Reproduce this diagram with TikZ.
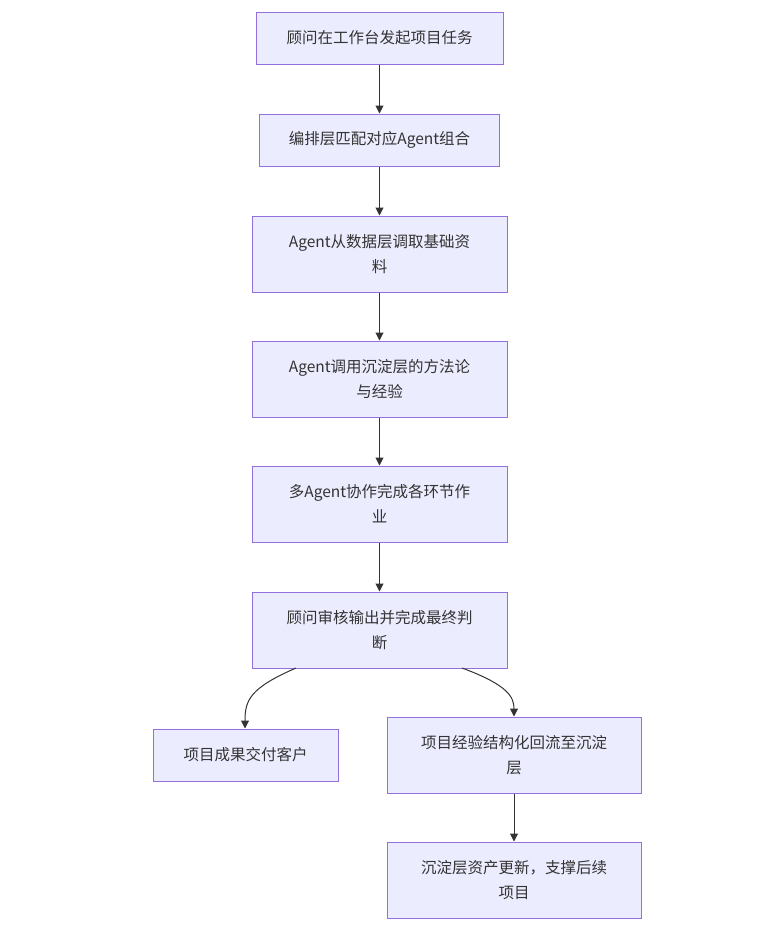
\documentclass[tikz,border=0pt]{standalone}
\usepackage{fontspec}
\setmainfont{Noto Sans CJK SC}
\usetikzlibrary{arrows.meta}
\definecolor{nodefill}{HTML}{ECECFF}
\definecolor{nodeline}{HTML}{9370DB}
\definecolor{txt}{HTML}{333333}
\tikzset{
  box/.style={draw=nodeline, fill=nodefill, line width=1pt, rectangle, align=center,
    text=txt, font=\fontsize{15.5}{25}\selectfont, inner sep=0pt},
  conn/.style={draw=txt, line width=1pt, -{Triangle[length=8pt,width=8pt]}}
}
\begin{document}
\begin{tikzpicture}[x=1pt,y=-1pt]
\useasboundingbox (0,0) rectangle (760,927);
\node[box, minimum width=247pt, minimum height=52pt] (a) at (379.5,38) {顾问在工作台发起项目任务};
\node[box, minimum width=240pt, minimum height=52pt] (b) at (379.5,140) {编排层匹配对应Agent组合};
\node[box, minimum width=255pt, minimum height=76pt] (c) at (379.5,254) {Agent从数据层调取基础资\\料};
\node[box, minimum width=255pt, minimum height=76pt] (d) at (379.5,379) {Agent调用沉淀层的方法论\\与经验};
\node[box, minimum width=255pt, minimum height=76pt] (e) at (379.5,504) {多Agent协作完成各环节作\\业};
\node[box, minimum width=255pt, minimum height=76pt] (f) at (379.5,630) {顾问审核输出并完成最终判\\断};
\node[box, minimum width=185pt, minimum height=52pt] (g) at (245.5,755) {项目成果交付客户};
\node[box, minimum width=254pt, minimum height=76pt] (h) at (514,755) {项目经验结构化回流至沉淀\\层};
\node[box, minimum width=254pt, minimum height=76pt] (i) at (514,880) {沉淀层资产更新，支撑后续\\项目};
\coordinate (fl) at (296,668);
\coordinate (fr) at (462,668);
\draw[conn] (a) -- (b);
\draw[conn] (b) -- (c);
\draw[conn] (c) -- (d);
\draw[conn] (d) -- (e);
\draw[conn] (e) -- (f);
\draw[conn] (fl) .. controls (250,688) and (245,700) .. (g.north -| 245,0);
\draw[conn] (fr) .. controls (508,685) and (514,697) .. (h.north -| 514,0);
\draw[conn] (h) -- (i);
\end{tikzpicture}
\end{document}
